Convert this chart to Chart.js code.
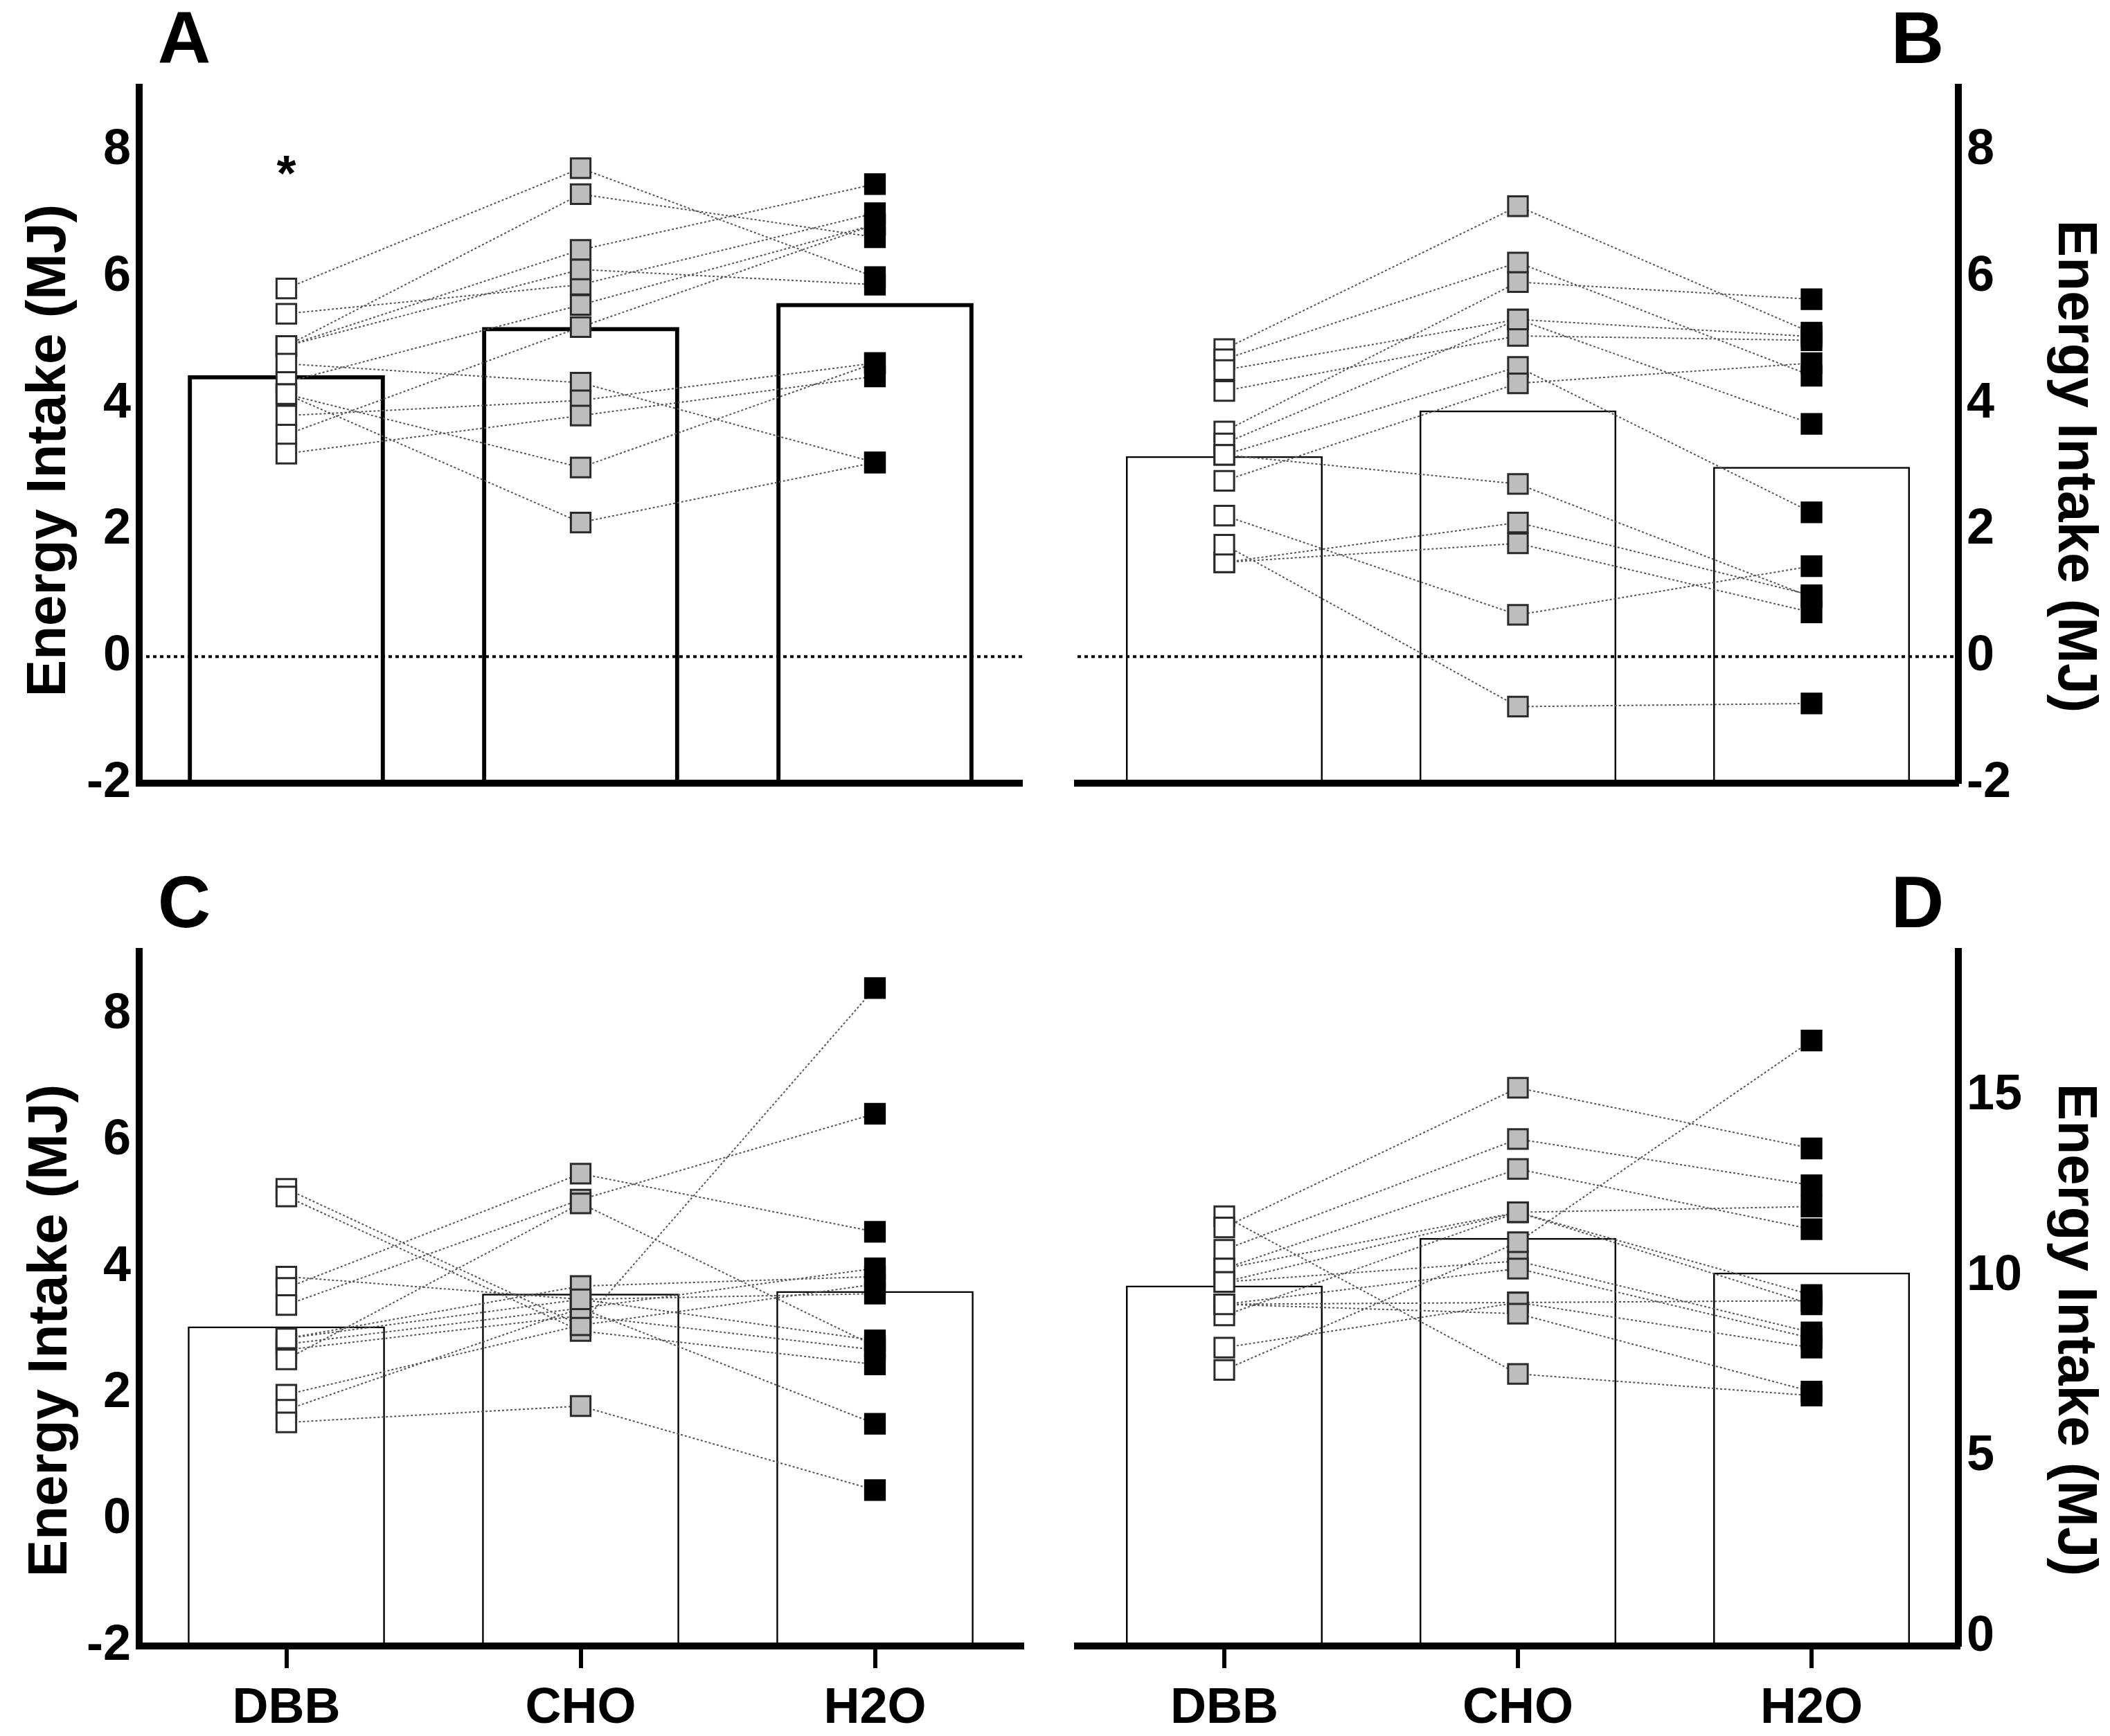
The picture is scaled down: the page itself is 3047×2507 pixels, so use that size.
<!DOCTYPE html>
<html><head><meta charset="utf-8">
<script src="https://cdn.jsdelivr.net/npm/chart.js@4.4.1/dist/chart.umd.min.js"></script>
<style>
html,body{margin:0;padding:0;background:#fff;width:3047px;height:2507px;overflow:hidden;}
canvas{position:absolute;}
</style></head><body>
<canvas id="cA" width="1520" height="1253" style="left:0px;top:0px;width:1520px;height:1253px"></canvas>
<canvas id="cB" width="1527" height="1253" style="left:1520px;top:0px;width:1527px;height:1253px"></canvas>
<canvas id="cC" width="1520" height="1254" style="left:0px;top:1253px;width:1520px;height:1254px"></canvas>
<canvas id="cD" width="1527" height="1254" style="left:1520px;top:1253px;width:1527px;height:1254px"></canvas>
<script>
// ---- data ----
const categories = ['DBB', 'CHO', 'H2O'];
const leftTicks = [-2, 0, 2, 4, 6, 8];
const dTicks = [0, 5, 10, 15];
const yTitle = 'Energy Intake (MJ)';

const aDBB = [5.82, 5.42, 4.91, 4.91, 4.91, 4.63, 4.34, 4.15, 4.15, 3.81, 3.51, 3.21];
const aCHO = [7.72, 5.88, 7.31, 6.43, 6.12, 4.33, 5.56, 2.99, 2.12, 4.05, 5.21, 3.81];
const aH2O = [6.00, 7.01, 6.63, 7.47, 5.88, 3.07, 6.83, 4.64, 3.07, 4.64, 6.83, 4.43];
const aMeans = [4.45, 5.21, 5.59];
const aStarValue = 7.83;

const bDBB = [4.86, 4.70, 4.53, 4.20, 3.56, 3.37, 3.19, 3.19, 2.78, 2.23, 1.49, 1.49, 1.77];
const bCHO = [7.12, 6.23, 5.33, 5.07, 5.92, 5.33, 4.58, 2.73, 4.32, 0.66, 2.12, 1.79, -0.79];
const bH2O = [5.12, 4.44, 5.06, 5.00, 5.65, 3.68, 2.28, 0.94, 4.64, 1.43, 0.97, 0.70, -0.74];
const bMeans = [3.17, 3.89, 3.00];

const cDBB = [5.24, 5.12, 3.85, 3.67, 3.40, 2.87, 2.78, 2.69, 2.54, 1.98, 1.74, 1.54, 2.87];
const cCHO = [3.08, 2.99, 3.49, 5.48, 5.07, 3.70, 3.35, 3.23, 5.01, 3.08, 3.35, 1.80, 3.49];
const cH2O = [3.73, 2.46, 2.84, 4.56, 6.43, 3.85, 3.98, 2.69, 2.75, 8.42, 1.52, 0.47, 3.58];
const cMeans = [3.06, 3.58, 3.62];

const dDBB = [11.66, 11.35, 10.73, 10.21, 10.21, 9.84, 9.84, 9.22, 9.22, 8.91, 8.02, 7.40, 9.22];
const dCHO = [7.29, 15.22, 13.80, 12.97, 11.77, 11.77, 10.42, 10.21, 9.27, 11.77, 9.27, 10.94, 8.96];
const dH2O = [6.69, 13.54, 12.52, 11.30, 11.93, 9.48, 8.44, 8.28, 9.32, 9.22, 8.02, 16.53, 6.80];
const dMeans = [9.74, 11.06, 10.10];

// ---- drawing ----
const FONT = '"Liberation Sans", Arial, Helvetica, sans-serif';
Chart.defaults.font.family = FONT;
Chart.defaults.color = '#000';

const decor = {
  id: 'decor',
  beforeDatasetsDraw(chart, args, o) {
    if (!o.zeroLine) return;
    const ctx = chart.ctx, a = chart.chartArea;
    const y = chart.scales.y.getPixelForValue(0);
    ctx.save();
    ctx.strokeStyle = '#000';
    ctx.lineWidth = 4;
    ctx.setLineDash([5, 5]);
    ctx.beginPath();
    ctx.moveTo(a.left, y);
    ctx.lineTo(a.right, y);
    ctx.stroke();
    ctx.restore();
  },
  afterDraw(chart, args, o) {
    const ctx = chart.ctx, a = chart.chartArea;
    ctx.save();
    ctx.fillStyle = '#000';
    ctx.font = 'bold 106px ' + FONT;
    ctx.textAlign = 'center';
    ctx.textBaseline = 'middle';
    ctx.fillText(o.letter, o.lx, o.ly);
    // axis title
    ctx.save();
    ctx.font = 'bold 80px ' + FONT;
    ctx.translate(o.tx, (a.top + a.bottom) / 2 + o.tdy);
    ctx.rotate(o.side === 'left' ? -Math.PI / 2 : Math.PI / 2);
    ctx.textAlign = 'center';
    ctx.textBaseline = 'middle';
    ctx.fillText(o.title, 0, 0);
    ctx.restore();
    if (o.star !== undefined) {
      const x = chart.scales.x.getPixelForValue(0);
      const y = chart.scales.y.getPixelForValue(o.star);
      ctx.font = 'bold 72px ' + FONT;
      ctx.textBaseline = 'alphabetic';
      ctx.fillText('*', x, y + 42);
    }
    ctx.restore();
  }
};

function makePanel(id, p) {
  const datasets = [];
  datasets.push({
    type: 'bar', data: p.means, base: p.yMin,
    backgroundColor: 'rgba(0,0,0,0)', borderColor: '#000', borderWidth: p.barWidth,
    barPercentage: 0.67, categoryPercentage: 1, order: 3
  });
  for (let i = 0; i < p.dbb.length; i++) {
    datasets.push({
      type: 'line', data: [p.dbb[i], p.cho[i], p.h2o[i]],
      borderColor: '#555', borderWidth: 2, borderDash: [3, 3],
      pointRadius: 0, fill: false, tension: 0, order: 2
    });
  }
  const groups = [[p.dbb, '#ffffff', '#2a2a2a'], [p.cho, '#bdbdbd', '#2a2a2a'], [p.h2o, '#000000', '#000000']];
  groups.forEach((g, c) => {
    datasets.push({
      type: 'line', showLine: false,
      data: g[0].map(v => ({ x: categories[c], y: v })),
      pointStyle: 'rect', pointRadius: 20,
      pointBackgroundColor: g[1], pointBorderColor: g[2], pointBorderWidth: 3,
      order: 1
    });
  });
  return new Chart(document.getElementById(id), {
    type: 'bar',
    data: { labels: categories, datasets },
    plugins: [decor],
    options: {
      responsive: false, animation: false, devicePixelRatio: 1, events: [],
      layout: { padding: p.pad },
      plugins: {
        legend: { display: false }, tooltip: { enabled: false },
        decor: { zeroLine: p.zeroLine, letter: p.letter, lx: p.lx, ly: p.ly, star: p.star,
                 title: yTitle, side: p.side, tx: p.tx, tdy: p.tdy }
      },
      scales: {
        x: {
          type: 'category', offset: true,
          grid: p.showX
            ? { display: true, drawOnChartArea: false, drawTicks: true, tickLength: 32, lineWidth: 6, color: '#000', offset: false }
            : { display: false },
          border: { display: true, color: '#000', width: 10 },
          ticks: { display: p.showX, font: { size: 72, weight: 'bold' }, color: '#000', padding: 16, maxRotation: 0 },
          afterFit: s => { s.height = p.xHeight; }
        },
        y: {
          type: 'linear', position: p.side, min: p.yMin, max: p.yMax,
          grid: { display: false, drawTicks: false },
          border: { display: true, color: '#000', width: 10 },
          ticks: { font: { size: 72, weight: 'bold' }, color: '#000', padding: 12 },
          afterBuildTicks: s => { s.ticks = p.ticks.map(v => ({ value: v })); },
          title: { display: false },
          afterFit: s => { s.width = p.yWidth; }
        }
      }
    }
  });
}

makePanel('cA', { dbb: aDBB, cho: aCHO, h2o: aH2O, means: aMeans, yMin: -2, yMax: 9, ticks: leftTicks,
  side: 'left', showX: false, barWidth: 6, letter: 'A', lx: 266, ly: 62, zeroLine: true, star: aStarValue,
  tx: 72, tdy: 22,
  pad: { left: 0, top: 126, right: 44, bottom: 0 }, yWidth: 201, xHeight: 122 });
makePanel('cB', { dbb: bDBB, cho: bCHO, h2o: bH2O, means: bMeans, yMin: -2, yMax: 9, ticks: leftTicks,
  side: 'right', showX: false, barWidth: 2.5, letter: 'B', lx: 1249, ly: 62, zeroLine: true,
  tx: 1475, tdy: 45,
  pad: { left: 36, top: 126, right: 0, bottom: 0 }, yWidth: 219, xHeight: 122 });
makePanel('cC', { dbb: cDBB, cho: cCHO, h2o: cH2O, means: cMeans, yMin: -2, yMax: 9, ticks: leftTicks,
  side: 'left', showX: true, barWidth: 2.5, letter: 'C', lx: 266, ly: 57, zeroLine: false,
  tx: 74, tdy: 46,
  pad: { left: 0, top: 121, right: 44, bottom: 0 }, yWidth: 201, xHeight: 130 });
makePanel('cD', { dbb: dDBB, cho: dCHO, h2o: dH2O, means: dMeans, yMin: -0.25, yMax: 19.0, ticks: dTicks,
  side: 'right', showX: true, barWidth: 2.5, letter: 'D', lx: 1249, ly: 57, zeroLine: false,
  tx: 1475, tdy: 45,
  pad: { left: 36, top: 121, right: 0, bottom: 0 }, yWidth: 219, xHeight: 130 });
</script>
</body></html>
